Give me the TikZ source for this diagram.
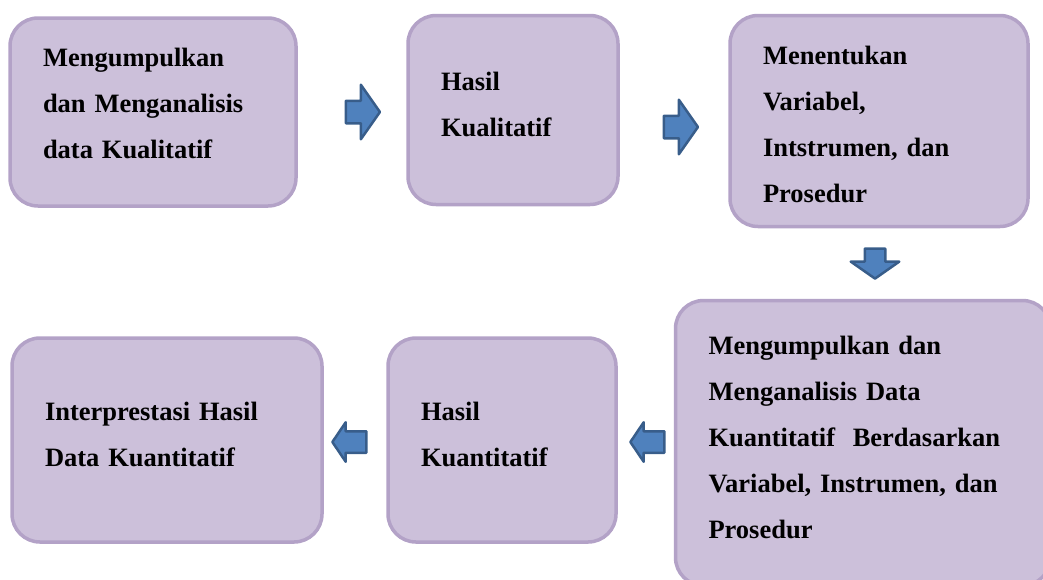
\documentclass[tikz,border=0pt]{standalone}
\usepackage{fontspec}
\setmainfont{Liberation Serif}
\usetikzlibrary{shapes.arrows, positioning}
\definecolor{boxfill}{HTML}{CCC0DA}
\definecolor{boxline}{HTML}{B3A2C7}
\definecolor{arrfill}{HTML}{4F81BD}
\definecolor{arrline}{HTML}{385D8A}

\begin{document}
\begin{tikzpicture}[
    x=1pt, y=-1pt,
    stage/.style={draw=boxline, fill=boxfill, line width=3.5pt, rounded corners=28pt,
                  align=left, inner xsep=33pt, inner ysep=0pt,
                  font=\fontsize{26.5}{46}\selectfont\bfseries},
    blockarrow/.style={single arrow, draw=arrline, fill=arrfill, line width=2.5pt,
                       line join=round, inner xsep=0pt, single arrow tip angle=110},
]
\useasboundingbox (0,0) rectangle (1043,579);

% top row
\node[stage, text width=220pt, minimum height=188pt, text depth=109pt] (kual) at (153,112)
     {Mengumpulkan\\dan Menganalisis\\data Kualitatif};
\node[stage, text width=144pt, minimum height=189pt, text depth=58pt] (hkual) at (513,110)
     {Hasil\\Kualitatif};
\node[stage, text width=232pt, minimum height=211pt, text depth=131pt] (var) at (879,121)
     {Menentukan\\Variabel,\\Intstrumen, dan\\Prosedur};

% bottom row
\node[stage, text width=309pt, minimum height=285pt, text depth=196pt] (kuan) at (863,443)
     {Mengumpulkan dan\\Menganalisis Data\\Kuantitatif~ Berdasarkan\\Variabel, Instrumen, dan\\Prosedur};
\node[stage, text width=162pt, minimum height=204pt, text depth=58pt] (hkuan) at (502,440)
     {Hasil\\Kuantitatif};
\node[stage, text width=244pt, minimum height=204pt, text depth=58pt] (interp) at (167,440)
     {Interprestasi Hasil\\Data Kuantitatif};

% block arrows
\node[blockarrow, minimum height=34pt, inner ysep=10pt, single arrow head extend=16pt]
     (a1) at (359,112) {};
\node[blockarrow, minimum height=34pt, inner ysep=10pt, single arrow head extend=16pt]
     (a2) at (677,127) {};
\node[blockarrow, rotate=270, minimum height=30pt, inner ysep=9pt, single arrow head extend=14pt]
     (a3) at (875,260) {};
\node[blockarrow, rotate=180, minimum height=34pt, inner ysep=9.5pt, single arrow head extend=9pt,
      single arrow tip angle=112] (a4) at (651,442) {};
\node[blockarrow, rotate=180, minimum height=34pt, inner ysep=9.5pt, single arrow head extend=9pt,
      single arrow tip angle=112] (a5) at (353,442) {};
\end{tikzpicture}
\end{document}
